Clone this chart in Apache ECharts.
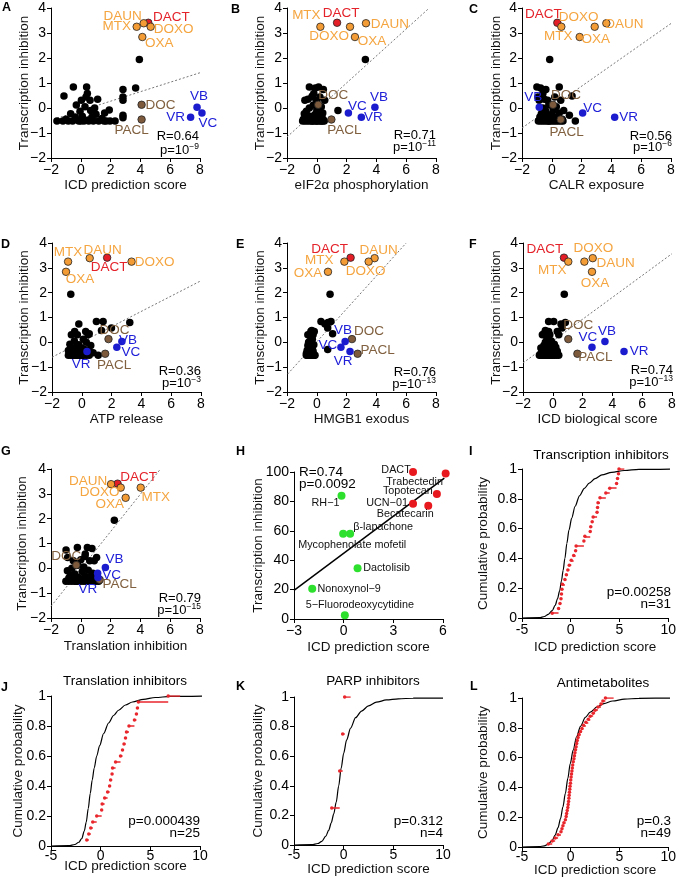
<!DOCTYPE html>
<html><head><meta charset="utf-8">
<script src="https://cdn.jsdelivr.net/npm/echarts@6.0.0/dist/echarts.min.js"></script>
<style>html,body{margin:0;padding:0;background:#fff}#c{width:679px;height:882px}</style>
</head><body><div id="c"></div>
<script>
const FONT = '"Liberation Sans", Arial, sans-serif';

// ---------- DATA ----------
const featuredNames = ['DACT','DAUN','MTX','DOXO','OXA','DOC','PACL','VB','VC','VR'];
const featuredTI = [3.41, 3.39, 3.25, 3.25, 2.84, 0.13, -0.46, 0.03, -0.2, -0.37];
const featuredX_A = [4.53, 4.22, 3.75, 4.69, 4.13, 4.08, 4.08, 7.8, 8.13, 7.37];
const featuredX_B = [1.36, 3.3, 0.24, 2.23, 2.56, 0.1, 0.98, 3.9, 2.12, 2.99];
const featuredX_C = [0.37, 3.66, 0.64, 2.88, 1.87, 0.08, 0.6, -0.84, 2.07, 4.22];
const featuredX_D = [1.7, 0.53, -0.92, 3.34, -1.06, 1.79, 1.57, 2.69, 2.35, 0.35];
const featuredX_E = [2.27, 3.88, 1.85, 3.48, 0.75, 2.36, 2.74, 1.9, 1.62, 2.23];
const featuredX_F = [0.75, 2.68, 1.04, 2.12, 2.63, 1.04, 1.65, 3.5, 2.63, 4.78];
const featuredX_G = [2.47, 2.03, 4.02, 2.68, 3.01, -0.3, 1.27, 1.65, 1.13, 1.15];

const otherTI = [1.94, 0.84, 0.84, 0.80, 0.74, 0.58, 0.48, 0.44, 0.44, 0.35, 0.31, 0.31, 0.31, 0.12, 0.05, 0.0,
  -0.08, -0.1, -0.13, -0.2, -0.23, -0.25, -0.29, -0.33, -0.36, -0.36, -0.39, -0.42, -0.45, -0.48,
  -0.52, -0.52, -0.52, -0.52, -0.52, -0.52, -0.52, -0.52, -0.52, -0.52, -0.52, -0.52, -0.52, -0.52];
const otherX_A = [3.93, -0.5, 0.39, 3.68, 2.83, 0.44, -1.13, 0.35, 2.83, 1.13, 0.04, 0.62, 2.83, -0.3, 0.28, 0.93,
  1.91, 0.66, -0.05, 1.6, -0.68, 1.02, 2.83, 0.1, -0.37, 0.75, 2.83, 1.42, -1.0, 0.5,
  -1.6, -0.84, -0.55, -0.14, 0.21, 0.53, 0.84, 1.2, 1.56, 1.96, 2.3, -1.2, 0.0, 1.7];
const otherX_B = [3.26, -0.5, 0.12, -0.1, 0.44, -0.2, -0.3, -0.32, 0.21, -0.6, -0.01, 0.53, -0.8, -0.23, 0.3, -0.5,
  0.0, 1.42, -0.7, 0.4, -0.84, -0.1, 0.2, -0.4, -0.6, 0.35, -0.2, 0.1, -0.9, 0.45,
  -0.95, -0.8, -0.65, -0.5, -0.35, -0.2, -0.05, 0.1, 0.25, 0.4, 0.5, -0.3, 0.0, 0.3];
const otherX_C = [-0.14, -1.0, 0.5, -0.75, -0.4, -0.6, 1.36, -0.93, 0.2, -0.5, -0.28, 0.6, -0.85, -0.2, 0.3, -0.6,
  0.1, 0.8, -0.4, 0.5, -0.7, 0.0, 1.18, -0.3, 0.2, -0.8, 0.4, -0.5, 0.7, 0.1,
  -0.9, -0.75, -0.6, -0.45, -0.3, -0.15, 0.0, 0.15, 0.3, 0.45, 0.6, 0.75, 1.58, -0.2];
const otherX_D = [-0.74, 0.98, 1.43, 3.22, -0.2, 1.99, 1.32, 0.26, -0.48, 0.5, 0.42, -0.3, -0.7, 0.1, -0.5, 0.3,
  -0.8, -0.2, 0.6, -0.4, 0.0, -0.6, 0.2, -0.9, -0.1, 0.5, -0.7, 0.76, -0.3, 0.1,
  -0.9, -0.75, -0.6, -0.5, -0.4, -0.3, -0.2, -0.1, 0.0, 0.1, 0.3, 0.5, 1.1, -0.45];
const otherX_E = [0.89, 0.28, 0.95, 0.75, 0.55, 0.73, -0.34, -0.17, -0.4, 1.06, -0.5, -0.25, -0.6, -0.3, -0.45, -0.55,
  -0.35, -0.2, -0.6, -0.4, -0.5, -0.3, 0.73, -0.65, -0.45, -0.25, -0.55, -0.35, -0.7, -0.5,
  -0.7, -0.62, -0.55, -0.48, -0.42, -0.36, -0.3, -0.24, -0.18, -0.12, -0.6, -0.5, -0.4, -0.3];
const otherX_F = [0.77, -0.28, 0.06, 0.84, 0.55, 0.62, -0.5, -0.28, 0.3, -0.6, -0.2, 0.4, -0.7, -0.4, -0.1, -0.5,
  0.1, -0.3, -0.6, 0.2, -0.8, -0.4, 0.0, -0.7, -0.3, 0.3, -0.5, -0.1, -0.8, 0.2,
  -0.9, -0.8, -0.7, -0.6, -0.5, -0.4, -0.3, -0.2, -0.1, 0.0, 0.1, 0.25, 0.4, -0.45];
const otherX_G = [2.25, -0.23, 0.44, 0.75, -0.99, 0.3, 0.28, -0.88, 1.06, 0.0, -0.5, 0.6, 0.9, -0.2, 0.2, -0.6,
  0.5, -0.9, 0.1, 0.8, -0.4, 1.1, -0.7, 0.3, -0.2, 0.6, -0.8, 0.0, 0.9, -0.5,
  -1.0, -0.8, -0.6, -0.4, -0.2, 0.0, 0.2, 0.4, 0.6, 0.8, 1.0, 1.2, -0.3, 0.5];

const fit_A = [[-1.6, -0.41], [8, 1.41]];
const fit_B = [[-2, -1.16], [7.55, 4]];
const fit_C = [[-2, -0.8], [8, 3.38]];
const fit_D = [[-2, -0.6], [8, 2.48]];
const fit_E = [[-1.96, -1.28], [6, 4]];
const fit_F = [[-2, -0.83], [8, 3.57]];
const fit_G = [[-2, -1.53], [5.35, 4]];

const statR = {A:'0.64', B:'0.71', C:'0.56', D:'0.36', E:'0.76', F:'0.74', G:'0.79'};
const statExp = {A:'−9', B:'−11', C:'−6', D:'−3', E:'−13', F:'−13', G:'−15'};
const xTitles = {A:'ICD prediction score', B:'eIF2α phosphorylation', C:'CALR exposure', D:'ATP release',
  E:'HMGB1 exodus', F:'ICD biological score', G:'Translation inhibition'};

// Panel H
const hRedNames = ['DACT','Trabectedin','Topotecan','UCN−01','Becatecarin'];
const hRedX = [4.19, 6.16, 5.63, 4.19, 5.11];
const hRedY = [100, 98.9, 85, 78.4, 77];
const hGreenNames = ['RH−1','β-lapachone','Mycophenolate mofetil','Dactolisib','Nonoxynol−9','5−Fluorodeoxycytidine'];
const hGreenX = [-0.13, 0.39, -0.03, 0.84, -1.9, 0.07];
const hGreenY = [83.9, 58, 58, 34.5, 20.5, 2.5];
const fit_H = [[-3, 19.5], [6.08, 95.9]];

// Panels I-L (cumulative distributions)
const cdfTitles = {I:'Transcription inhibitors', J:'Translation inhibitors', K:'PARP inhibitors', L:'Antimetabolites'};
const cdfP = {I:'0.00258', J:'0.000439', K:'0.312', L:'0.3'};
const cdfN = {I:31, J:25, K:4, L:49};
const scores_I = [-1.9, -1.25, -1.1, -1.0, -0.95, -0.9, -0.85, -0.6, -0.45, -0.3, -0.15, 0.05, 0.3, 0.5, 0.55,
  1.35, 1.45, 2.0, 2.05, 2.2, 2.3, 2.7, 2.75, 2.8, 3.0, 3.6, 4.0, 4.8, 4.9, 4.95, 4.7];
const scores_J = [-1.4, -1.2, -1.0, -0.8, -0.4, 0.1, 0.15, 0.4, 0.7, 0.9, 1.0, 1.15, 1.2, 1.5, 2.0, 2.2, 2.35,
  2.5, 2.6, 2.85, 3.4, 3.6, 3.7, 3.8, 6.8];
const scores_K = [-1.2, -0.4, -0.1, 0.1];
const scores_L = [-2.3, -1.9, -1.6, -1.3, -1.0, -0.9, -0.8, -0.7, -0.55, -0.47, -0.42, -0.36, -0.3, -0.26, -0.22,
  -0.19, -0.16, -0.13, -0.1, -0.07, -0.03, 0.0, 0.04, 0.08, 0.12, 0.16, 0.2, 0.26, 0.33, 0.38, 0.43, 0.49,
  0.55, 0.61, 0.67, 0.75, 0.85, 1.0, 1.15, 1.3, 1.55, 1.8, 2.0, 2.3, 2.5, 2.8, 3.1, 3.3, 3.56];
const tailEnd = {I:5.5, J:8.0, K:0.7, L:4.4};
const curve_I = [[-5,0],[-3.2,0.002],[-2.7,0.01],[-2.3,0.025],[-1.9,0.05],[-1.6,0.085],[-1.35,0.13],[-1.15,0.18],
  [-0.95,0.25],[-0.78,0.32],[-0.6,0.4],[-0.4,0.5],[-0.18,0.59],[0.1,0.67],[0.45,0.75],[0.9,0.82],[1.4,0.87],
  [1.9,0.905],[2.5,0.935],[3.2,0.96],[4.2,0.978],[5.5,0.99],[7,0.997],[10.5,1]];
const curve_J = [[-5,0],[-3.2,0.002],[-2.6,0.01],[-2.2,0.025],[-1.9,0.05],[-1.65,0.1],[-1.45,0.16],[-1.25,0.25],
  [-1.05,0.35],[-0.85,0.44],[-0.65,0.52],[-0.4,0.6],[-0.1,0.67],[0.3,0.75],[0.8,0.82],[1.3,0.87],[1.8,0.905],
  [2.5,0.94],[3.2,0.96],[4.3,0.978],[5.5,0.99],[7,0.997],[10.7,1]];
const curve_K = [[-5,0],[-3.2,0.002],[-2.6,0.01],[-2.2,0.025],[-1.8,0.06],[-1.5,0.1],[-1.25,0.15],[-1.0,0.21],
  [-0.75,0.29],[-0.5,0.4],[-0.25,0.52],[0.0,0.62],[0.3,0.71],[0.7,0.79],[1.2,0.86],[1.8,0.905],[2.5,0.94],
  [3.3,0.965],[4.3,0.98],[5.5,0.988],[7,0.992],[10,0.993]];
const curve_L = [[-5,0],[-3.2,0.002],[-2.7,0.008],[-2.3,0.02],[-1.9,0.045],[-1.6,0.08],[-1.3,0.13],[-1.05,0.19],
  [-0.8,0.27],[-0.55,0.36],[-0.3,0.46],[-0.05,0.56],[0.25,0.65],[0.6,0.74],[1.0,0.81],[1.5,0.87],[2.0,0.905],
  [2.7,0.94],[3.4,0.962],[4.3,0.98],[5.5,0.992],[7,0.998],[10.8,1]];

// ---------- STYLE / LAYOUT ----------
const gridBox = {
  A:[51,8,149,150], B:[287,8,149,150], C:[522,8,149,150],
  D:[52,243,149,149], E:[287,243,149,149], F:[523,243,149,149],
  G:[51,469,149,149], H:[294,472,149,147], I:[522,469,149,149],
  J:[51,696,149,150], K:[294,697,149,148], L:[522,698,149,149]};
const yNameGap = {A:20,B:20,C:19,D:21,E:20,F:20,G:22,H:29,I:32,J:26,K:29,L:32};
const xNameGap = {A:20,B:20,C:20,D:20,E:20,F:20,G:21,H:21,I:22,J:13,K:17,L:16};
const letterPos = {A:[2,1],B:[231,3],C:[469,3],D:[1,238],E:[236,238],F:[469,238],G:[1,445],H:[236,445],
  I:[469,445],J:[1,681],K:[236,680],L:[470,680]};
const statPos = {A:[199,136,150],B:[436,135,147],C:[672,136,147],D:[201,371,383],E:[436,372,384],
  F:[673,370,382],G:[201,598,610]};
const cdfTitlePos = {I:[601,455],J:[125,681],K:[373,681],L:[603,683]};
const cdfTextPos = {I:[671,592,604],J:[200,821,833],K:[443,821,833],L:[671,821,833]};

const fillColor = {DACT:'#e41e26', DAUN:'#f39b35', MTX:'#f39b35', DOXO:'#f39b35', OXA:'#f39b35',
  DOC:'#7d5a3c', PACL:'#7d5a3c', VB:'#1c1ccf', VC:'#1c1ccf', VR:'#1c1ccf'};
const textColor = {DACT:'#e4222a', DAUN:'#f5a540', MTX:'#f5a540', DOXO:'#f5a540', OXA:'#f5a540',
  DOC:'#80603f', PACL:'#80603f', VB:'#2020d8', VC:'#2020d8', VR:'#2020d8'};
const labelOff = {
  A:{DAUN:[-21,-7],DACT:[23,-5],MTX:[-20,0],DOXO:[23,3],OXA:[17,6],DOC:[19,1],PACL:[-10,11],VB:[2,-11],VR:[-15,0],VC:[6,10]},
  B:{MTX:[-14,-11],DACT:[4,-9],DOXO:[-21,10],DAUN:[24,1],OXA:[17,4],DOC:[15,-9],PACL:[13,11],VC:[9,-7],VB:[4,-10],VR:[12,0]},
  C:{DACT:[-14,-8],DOXO:[-16,-9],MTX:[-3,10],DAUN:[18,1],OXA:[16,2],VB:[-6,-10],DOC:[13,-9],VC:[10,-5],VR:[14,0],PACL:[6,13]},
  D:{MTX:[0,-9],DAUN:[13,-8],DACT:[2,10],DOXO:[23,1],OXA:[14,7],DOC:[6,-9],VB:[6,-1],VC:[14,5],VR:[-6,13],PACL:[9,12]},
  E:{DACT:[-21,-8],DAUN:[4,-8],MTX:[-25,-1],OXA:[-20,1],DOXO:[-3,10],VB:[-2,-11],DOC:[17,-8],VC:[-13,-2],VR:[-7,10],PACL:[20,-3]},
  F:{DACT:[-19,-8],DOXO:[9,-13],MTX:[-16,9],DAUN:[23,5],OXA:[3,11],DOC:[10,-14],VB:[2,-10],VC:[-4,-10],VR:[15,0],PACL:[18,4]},
  G:{DAUN:[-23,-3],DACT:[21,-6],DOXO:[-21,5],OXA:[-16,6],MTX:[15,10],DOC:[-10,-9],VB:[9,-8],VC:[14,2],VR:[-10,12],PACL:[20,5]}
};
const hLabelOff = {'DACT':[-17,-2],'Trabectedin':[-31,8],'Topotecan':[-29,-3],'UCN−01':[-26,-1],'Becatecarin':[-23,8],
  'RH−1':[-16,7],'β-lapachone':[33,-7],'Mycophenolate mofetil':[9,11],'Dactolisib':[29,0],'Nonoxynol−9':[37,0],
  '5−Fluorodeoxycytidine':[15,-10]};

const featuredX = {A:featuredX_A,B:featuredX_B,C:featuredX_C,D:featuredX_D,E:featuredX_E,F:featuredX_F,G:featuredX_G};
const otherX = {A:otherX_A,B:otherX_B,C:otherX_C,D:otherX_D,E:otherX_E,F:otherX_F,G:otherX_G};
const fits = {A:fit_A,B:fit_B,C:fit_C,D:fit_D,E:fit_E,F:fit_F,G:fit_G};
const scores = {I:scores_I,J:scores_J,K:scores_K,L:scores_L};
const curves = {I:curve_I,J:curve_J,K:curve_K,L:curve_L};

const minusFmt = v => (v < 0 ? '−' + Math.abs(v) : String(v));

function axis(idx, extra) {
  return Object.assign({
    gridIndex: idx, type: 'value', nameLocation: 'middle', nameMoveOverlap: false,
    axisLine: {show: true, onZero: false, lineStyle: {color: '#000', width: 1}},
    axisTick: {show: true, length: 4, lineStyle: {color: '#000', width: 1}},
    splitLine: {show: false},
    axisLabel: {color: '#000', fontSize: 14, fontFamily: FONT, margin: 5},
    nameTextStyle: {color: '#111', fontSize: 13.5, fontFamily: FONT}
  }, extra);
}

const order = ['A','B','C','D','E','F','G','H','I','J','K','L'];
const option = {animation: false, backgroundColor: '#fff', grid: [], xAxis: [], yAxis: [], series: [], graphic: []};

order.forEach((p, i) => {
  const b = gridBox[p];
  option.grid.push({left: b[0], top: b[1], width: b[2], height: b[3]});
  const letter = letterPos[p];
  option.graphic.push({type: 'text', x: letter[0], y: letter[1],
    style: {text: p, fill: '#000', font: 'bold 12.5px ' + FONT, verticalAlign: 'top'}});
});

// Panels A-G
['A','B','C','D','E','F','G'].forEach(p => {
  const i = order.indexOf(p);
  option.xAxis.push(axis(i, {min: -2, max: 8, interval: 2, name: xTitles[p], nameGap: xNameGap[p],
    axisLabel: {color: '#000', fontSize: 14, fontFamily: FONT, margin: 5, formatter: minusFmt}}));
  option.yAxis.push(axis(i, {min: -2, max: 4, interval: 1, name: 'Transcription inhibition', nameGap: yNameGap[p],
    axisLabel: {color: '#000', fontSize: 14, fontFamily: FONT, margin: 5, formatter: minusFmt}}));
  option.series.push({type: 'line', xAxisIndex: i, yAxisIndex: i, data: fits[p], symbol: 'none', silent: true, z: 1,
    lineStyle: {color: '#777', width: 1, type: [2, 2]}});
  option.series.push({type: 'scatter', xAxisIndex: i, yAxisIndex: i, symbolSize: 7.5, z: 2,
    data: otherX[p].map((x, k) => [x, otherTI[k]]), itemStyle: {color: '#000', opacity: 1}});
  option.series.push({type: 'scatter', xAxisIndex: i, yAxisIndex: i, symbolSize: 7.5, z: 3, clip: false,
    data: featuredNames.map((n, k) => ({
      value: [featuredX[p][k], featuredTI[k]], name: n,
      itemStyle: {color: fillColor[n], opacity: 1, borderColor: n[0] === 'V' ? fillColor[n] : '#222', borderWidth: n[0] === 'V' ? 0 : 0.8},
      label: {show: true, formatter: n, position: 'inside', offset: labelOff[p][n], color: textColor[n],
        fontSize: 13.5, fontFamily: FONT}
    }))});
  const sp = statPos[p];
  option.graphic.push({type: 'text', x: sp[0], y: sp[1], style: {text: 'R=' + statR[p], fill: '#000',
    font: '13px ' + FONT, align: 'right', verticalAlign: 'middle'}});
  option.graphic.push({type: 'text', x: sp[0], y: sp[2], style: {text: '{a|p=10}{s|' + statExp[p] + '}',
    align: 'right', verticalAlign: 'middle',
    rich: {a: {fontSize: 13, fontFamily: FONT, fill: '#000', lineHeight: 15},
           s: {fontSize: 8.5, fontFamily: FONT, fill: '#000', verticalAlign: 'top', lineHeight: 15}}}});
});

// Panel H
(function () {
  const i = order.indexOf('H');
  option.xAxis.push(axis(i, {min: -3, max: 6, interval: 3, name: 'ICD prediction score', nameGap: xNameGap.H,
    axisLabel: {color: '#000', fontSize: 14, fontFamily: FONT, margin: 5, formatter: minusFmt}}));
  option.yAxis.push(axis(i, {min: 0, max: 100, interval: 20, name: 'Transcription inhibition', nameGap: yNameGap.H}));
  option.series.push({type: 'line', xAxisIndex: i, yAxisIndex: i, data: fit_H, symbol: 'none', silent: true, z: 1,
    lineStyle: {color: '#000', width: 1.5}});
  const mk = (names, xs, ys, col) => ({type: 'scatter', xAxisIndex: i, yAxisIndex: i, symbolSize: 8, z: 3, clip: false,
    itemStyle: {color: col, opacity: 1},
    data: names.map((n, k) => ({value: [xs[k], ys[k]], name: n,
      label: {show: true, formatter: n, position: 'inside', offset: hLabelOff[n], color: '#111',
        fontSize: 10.8, fontFamily: FONT}}))});
  option.series.push(mk(hRedNames, hRedX, hRedY, '#e8191e'));
  option.series.push(mk(hGreenNames, hGreenX, hGreenY, '#2ee02e'));
  option.graphic.push({type: 'text', x: 299, y: 472, style: {text: 'R=0.74', fill: '#000', font: '13.5px ' + FONT,
    align: 'left', verticalAlign: 'middle'}});
  option.graphic.push({type: 'text', x: 299, y: 484, style: {text: 'p=0.0092', fill: '#000', font: '13.5px ' + FONT,
    align: 'left', verticalAlign: 'middle'}});
})();

// Panels I-L
['I','J','K','L'].forEach(p => {
  const i = order.indexOf(p);
  option.xAxis.push(axis(i, {min: -5, max: 10, interval: 5, name: 'ICD prediction score', nameGap: xNameGap[p],
    axisLabel: {color: '#000', fontSize: 14, fontFamily: FONT, margin: p === 'I' ? 5 : 3}}));
  option.yAxis.push(axis(i, {min: 0, max: 1, interval: 0.2, name: 'Cumulative probability', nameGap: yNameGap[p]}));
  option.series.push({type: 'line', xAxisIndex: i, yAxisIndex: i, data: curves[p], symbol: 'none', smooth: 0.3,
    smoothMonotone: 'x', clip: false, silent: true, z: 2, lineStyle: {color: '#000', width: 1.2}});
  const s = scores[p].slice().sort((a, b) => a - b);
  const n = s.length;
  const segs = s.map((x, k) => ({coords: [[x, (k + 1) / n], [k + 1 < n ? s[k + 1] : tailEnd[p], (k + 1) / n]]}));
  option.series.push({type: 'lines', coordinateSystem: 'cartesian2d', xAxisIndex: i, yAxisIndex: i, data: segs,
    silent: true, z: 3, lineStyle: {color: '#e8262c', width: 1.5, opacity: 1}});
  option.series.push({type: 'scatter', xAxisIndex: i, yAxisIndex: i, symbolSize: 3.5, z: 4,
    data: s.map((x, k) => [x, (k + 1) / n]), itemStyle: {color: '#e8262c', opacity: 1}});
  const tp = cdfTitlePos[p];
  option.graphic.push({type: 'text', x: tp[0], y: tp[1], style: {text: cdfTitles[p], fill: '#000',
    font: '13.5px ' + FONT, align: 'center', verticalAlign: 'middle'}});
  const cp = cdfTextPos[p];
  option.graphic.push({type: 'text', x: cp[0], y: cp[1], style: {text: 'p=' + cdfP[p], fill: '#000',
    font: '13.5px ' + FONT, align: 'right', verticalAlign: 'middle'}});
  option.graphic.push({type: 'text', x: cp[0], y: cp[2], style: {text: 'n=' + cdfN[p], fill: '#000',
    font: '13.5px ' + FONT, align: 'right', verticalAlign: 'middle'}});
});

const chart = echarts.init(document.getElementById('c'), null, {renderer: 'canvas'});
chart.setOption(option);
</script></body></html>
